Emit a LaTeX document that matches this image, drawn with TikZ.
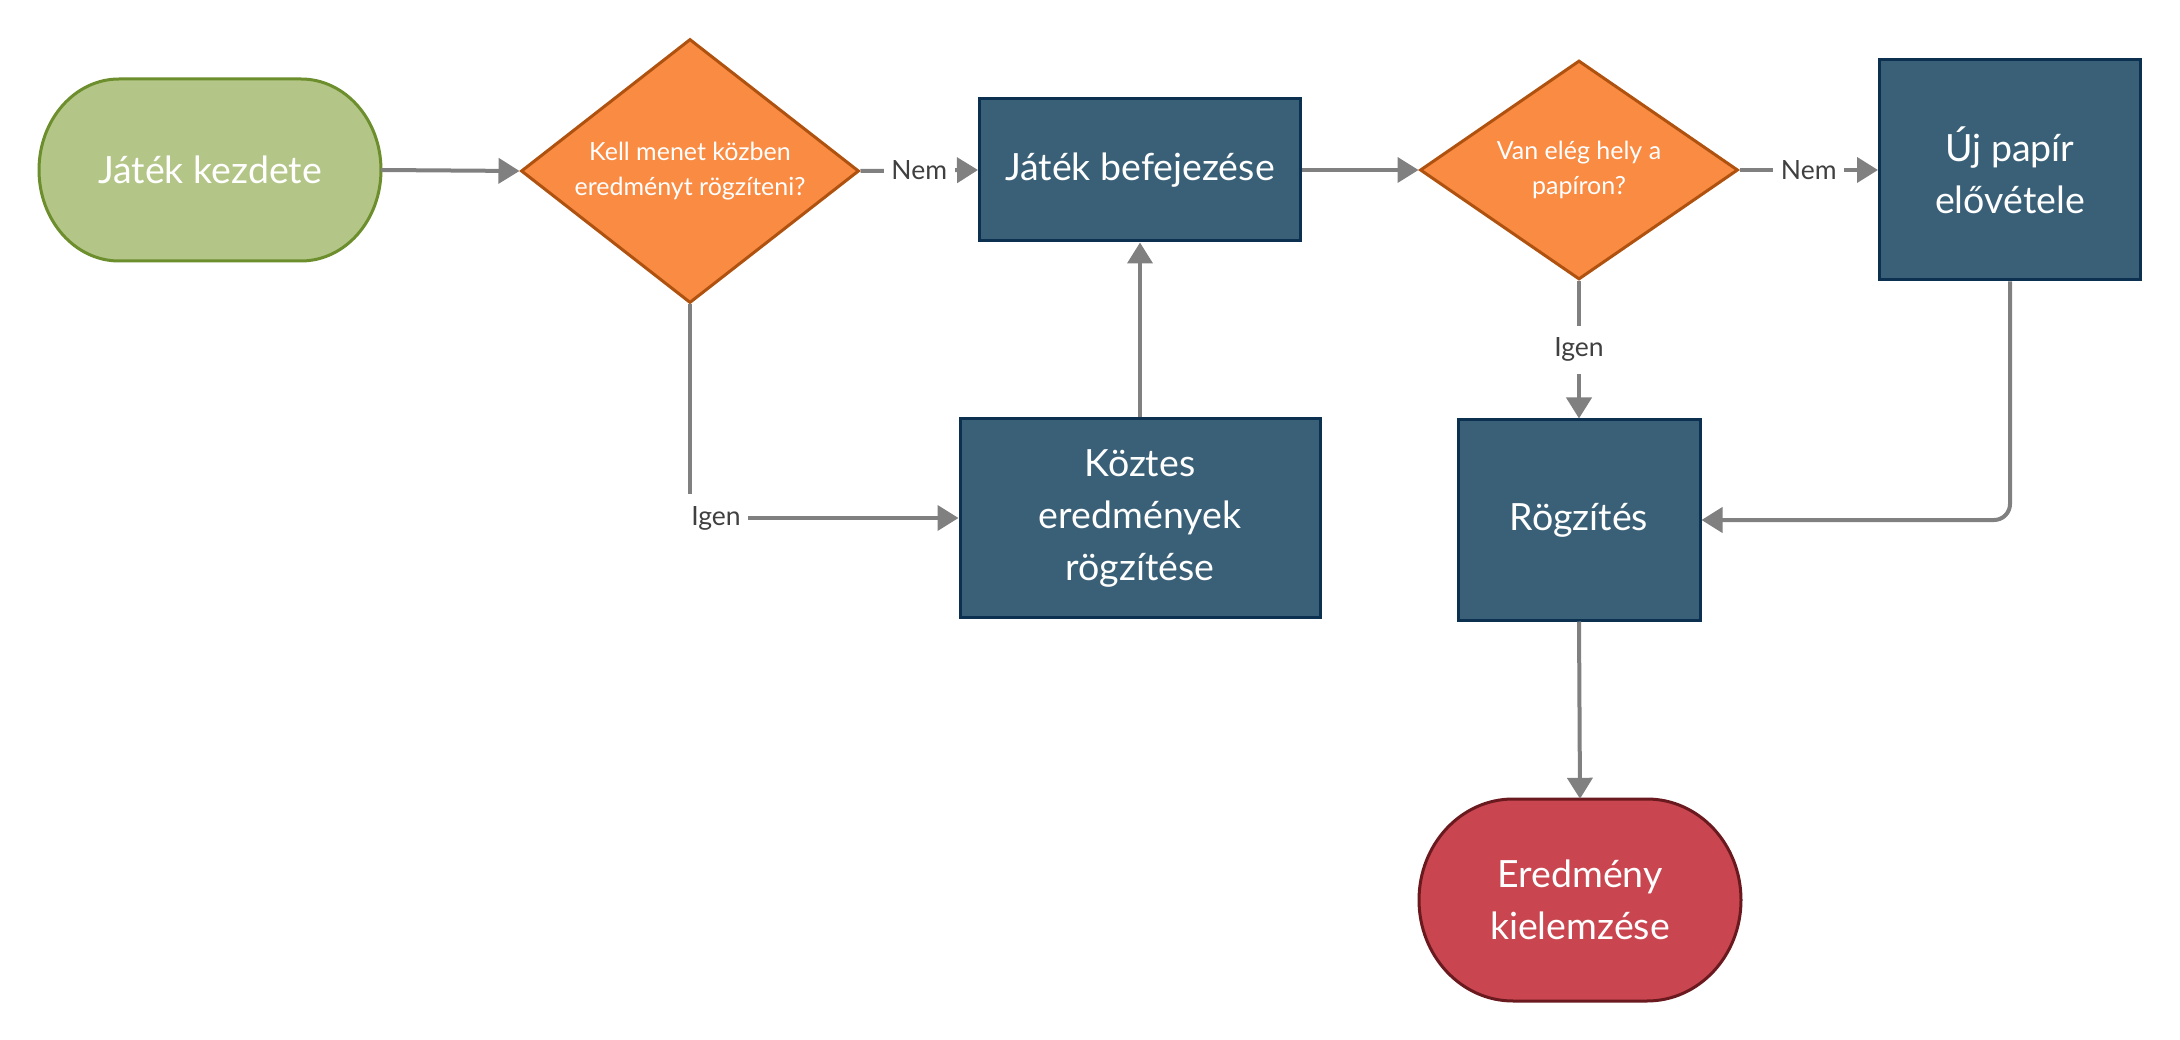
\documentclass[tikz,border=0pt]{standalone}
\usepackage{fontspec}
\setmainfont{Lato}
\usetikzlibrary{arrows.meta,calc,shapes.geometric}
\definecolor{greenfill}{HTML}{B3C687}
\definecolor{greenborder}{HTML}{6D8E2C}
\definecolor{orfill}{HTML}{F98B43}
\definecolor{orborder}{HTML}{B0520F}
\definecolor{boxfill}{HTML}{3A6078}
\definecolor{boxborder}{HTML}{0B3050}
\definecolor{redfill}{HTML}{C9454F}
\definecolor{redborder}{HTML}{6A1A1F}
\definecolor{arrowgray}{HTML}{808080}
\definecolor{lblgray}{HTML}{404040}
\tikzset{
  conn/.style={draw=arrowgray, line width=4pt, -{Triangle[length=21pt,width=25pt]}},
  lbl/.style={fill=white, text=lblgray, font=\fontsize{26.5}{30}\selectfont, inner xsep=7.5pt, inner ysep=12pt},
  boxsty/.style={rectangle, draw=boxborder, fill=boxfill, line width=3pt, text=white, align=center, font=\fontsize{37.5}{52}\selectfont, inner sep=0pt},
  dec/.style={diamond, aspect=1.3, draw=orborder, fill=orfill, line width=3pt, text=white, align=center, font=\fontsize{25}{35}\selectfont, inner sep=0pt},
  term/.style={rectangle, text=white, align=center, font=\fontsize{37.5}{52}\selectfont, inner sep=0pt},
  startsty/.style={draw=greenborder, fill=greenfill, line width=3pt},
  endsty/.style={draw=redborder, fill=redfill, line width=3pt},
}
\begin{document}
\begin{tikzpicture}[x=1pt,y=-1pt]
\useasboundingbox[fill=white] (0,0) rectangle (2180,1040);

% terminal shapes
\draw[startsty] (119,79) -- (301,79) arc[start angle=-90,end angle=90,x radius=80,y radius=91]
  -- (119,261) arc[start angle=90,end angle=270,x radius=80,y radius=91] -- cycle;
\draw[endsty] (1513,799) -- (1647,799) arc[start angle=-90,end angle=90,x radius=94,y radius=101]
  -- (1513,1001) arc[start angle=90,end angle=270,x radius=94,y radius=101] -- cycle;

% nodes
\node[term, minimum width=342pt, minimum height=182pt] (start) at (210,170) {Játék kezdete};
\node[dec, minimum width=338pt, minimum height=264pt] (d1) at (690,171) {Kell menet közben\\eredményt rögzíteni?};
\node[boxsty, minimum width=321pt, minimum height=142pt] (b1) at (1140,170) {Játék befejezése};
\node[dec, minimum width=318pt, minimum height=219pt] (d2) at (1579,170) {Van elég hely a\\papíron?};
\node[boxsty, minimum width=261pt, minimum height=220pt] (b2) at (2010,170) {Új papír\\elővétele};
\node[boxsty, minimum width=360pt, minimum height=198pt] (b3) at (1140,518) {Köztes\\eredmények\\rögzítése};
\node[boxsty, minimum width=242pt, minimum height=200pt] (b4) at (1579,520) {Rögzítés};
\node[term, minimum width=322pt, minimum height=202pt] (end) at (1580,900) {Eredmény\\kielemzése};

% connectors
\draw[conn] (start.east) -- (d1.west);
\draw[conn] (d1.east) -- node[lbl] {Nem} (b1.west);
\draw[conn] (b1.east) -- (d2.west);
\draw[conn] (d2.east) -- node[lbl] {Nem} (b2.west);
\draw[conn] (d2.south) -- node[lbl] {Igen} (b4.north);
\draw[conn] (d1.south) |- (b3.west);
\node[lbl] (ig1) at ($(d1.south |- b3.west)+(26,0)$) {Igen};
\draw[conn] (b3.north) -- (b1.south);
\draw[conn, rounded corners=16pt] (b2.south) |- (b4.east);
\draw[conn] (b4.south) -- (end.north);
\end{tikzpicture}
\end{document}
